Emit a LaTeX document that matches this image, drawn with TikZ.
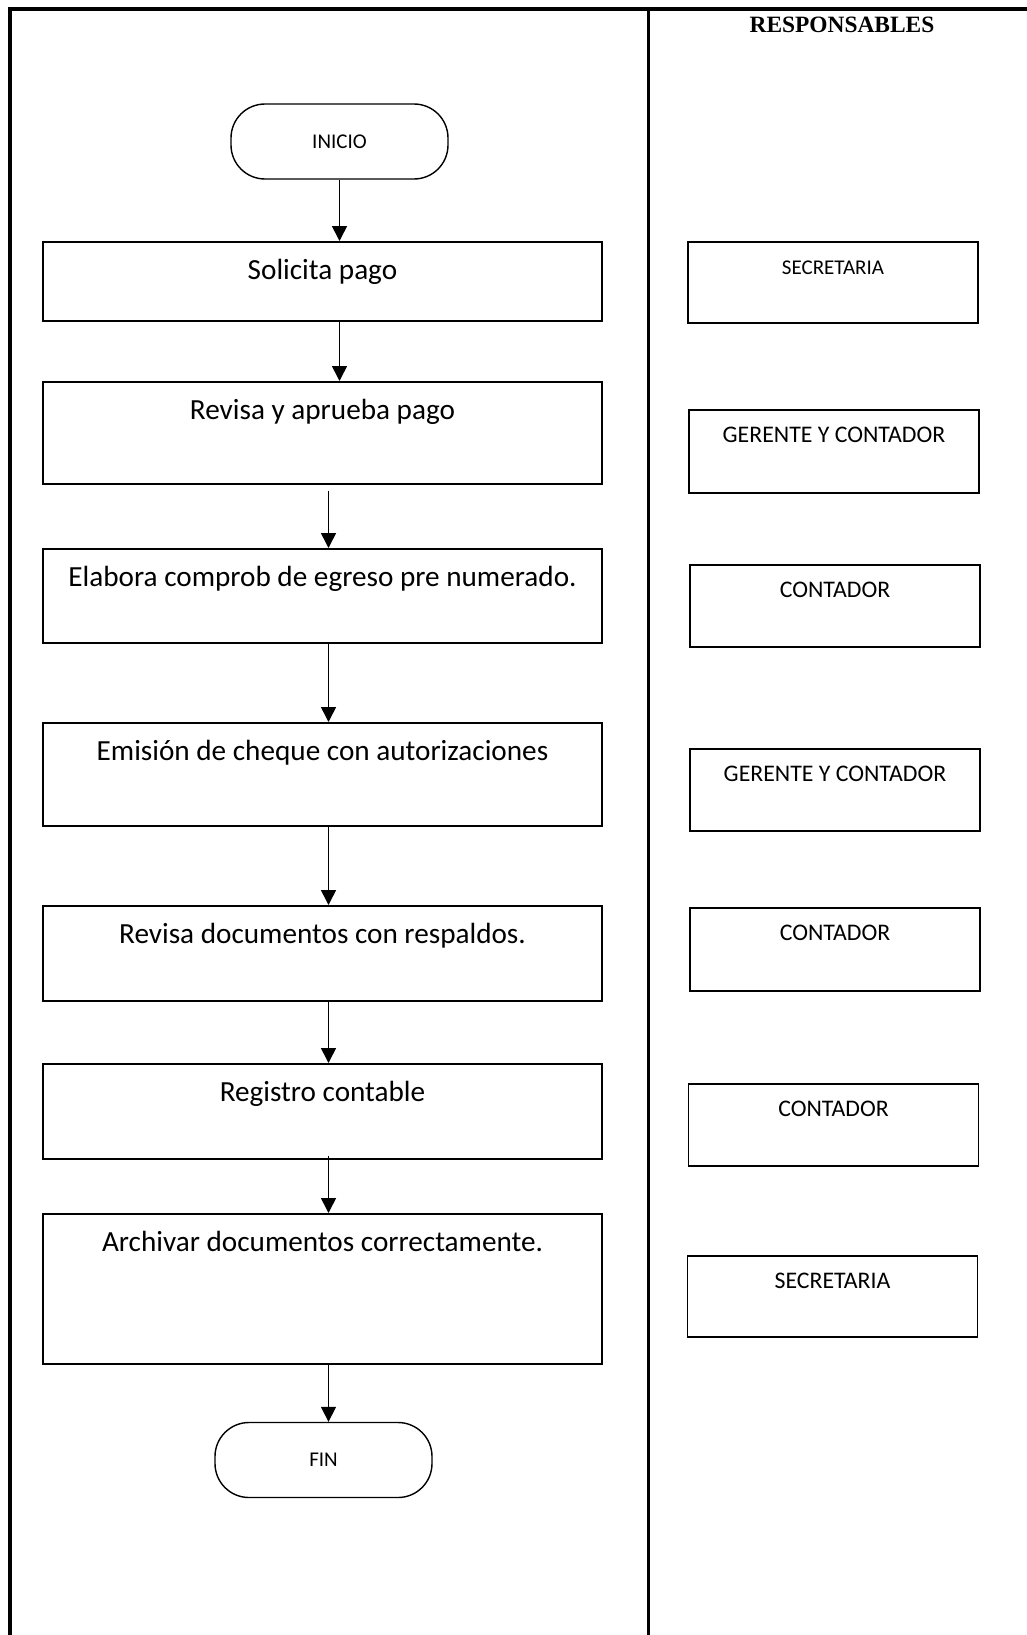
\documentclass[tikz,border=0pt]{standalone}
\usepackage{fontspec}
\setmainfont{Carlito}
\newfontfamily\titlefont{Liberation Serif}
\usetikzlibrary{arrows.meta,calc}

\newcommand{\bigtxt}{\fontsize{29.2}{35}\selectfont}
\newcommand{\midtxt}{\fontsize{23.8}{28}\selectfont}
\newcommand{\smalltxt}{\fontsize{21}{25}\selectfont}

\begin{document}
\begin{tikzpicture}[x=1pt, y=-1pt,
	procbox/.style={draw, line width=1.6pt, anchor=north, minimum width=559pt,
		inner ysep=0pt, text height=38pt, text depth=#1, font=\bigtxt},
	whobox/.style={draw, line width=1.6pt, anchor=north, minimum width=290pt,
		inner ysep=0pt, text height=33pt, text depth=#1, font=\midtxt},
	term/.style={draw, line width=1.4pt, rounded corners=34pt, minimum width=217pt,
		minimum height=75pt, font=\smalltxt},
	flow/.style={line width=1.6pt, -{Triangle[length=15pt, width=15pt]}}]
	 \useasboundingbox (0, 0) rectangle (1026, 1635);
	 
	 % frame
	 \draw[line width=3.5pt] (1030, 9) -- (10, 9) -- (10, 1640);
	 \draw[line width=3pt] (648, 9) -- (648, 1640);
	 \node[anchor = base, font = \titlefont\bfseries\fontsize{23.4}{28}\selectfont] (title) at (842, 33) {RESPONSABLES};
	 
	 % steps
	 \node[term] (inicio) at (339.5, 141.5) {INICIO};
	 \node[procbox = 41pt] (solicita) at (322.5, 241) {Solicita pago};
	 \node[procbox = 64pt] (revisa) at (322.5, 381) {Revisa y aprueba pago};
	 \node[procbox = 56pt] (elabora) at (322.5, 548) {Elabora comprob de egreso pre numerado.};
	 \node[procbox = 65pt] (emision) at (322.5, 722) {Emisión de cheque con autorizaciones};
	 \node[procbox = 57pt] (revisadoc) at (322.5, 905) {Revisa documentos con respaldos.};
	 \node[procbox = 57pt] (registro) at (322.5, 1063) {Registro contable};
	 \node[procbox = 112pt] (archivar) at (322.5, 1213) {Archivar documentos correctamente.};
	 \node[term] (fin) at (323.5, 1460) {FIN};
	 
	 % responsables
	 \node[whobox = 48pt, font = \smalltxt] (sec1) at (833, 241) {SECRETARIA};
	 \node[whobox = 50pt] (ger1) at (834, 409) {GERENTE Y CONTADOR};
	 \node[whobox = 49pt] (con1) at (835, 564) {CONTADOR};
	 \node[whobox = 49pt] (ger2) at (835, 748) {GERENTE Y CONTADOR};
	 \node[whobox = 50pt] (con2) at (835, 907) {CONTADOR};
	 \node[whobox = 49pt] (con3) at (833.5, 1083) {CONTADOR};
	 \node[whobox = 48pt] (sec2) at (832.5, 1255) {SECRETARIA};
	 
	 % arrows
	 \coordinate (axis) at (328.5, 0);
	 \draw[flow] (inicio.south) -- (inicio.south |- solicita.north);
	 \draw[flow] (inicio.south |- solicita.south) -- (inicio.south |- revisa.north);
	 \draw[flow] ($(revisa.south -| axis) + (0, 6)$) -- (elabora.north -| axis);
	 \draw[flow] (elabora.south -| axis) -- (emision.north -| axis);
	 \draw[flow] (emision.south -| axis) -- (revisadoc.north -| axis);
	 \draw[flow] (revisadoc.south -| axis) -- (registro.north -| axis);
	 \draw[flow] ($(registro.south -| axis) + (0, -4)$) -- (archivar.north -| axis);
	 \draw[flow] (archivar.south -| axis) -- (fin.north -| axis);
\end{tikzpicture}
\end{document}
